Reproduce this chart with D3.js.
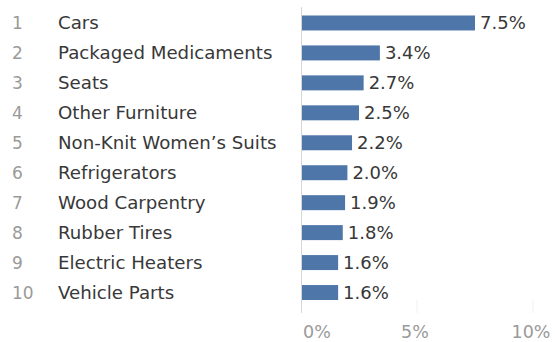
<!DOCTYPE html>
<html>
<head>
<meta charset="utf-8">
<script src="https://cdn.jsdelivr.net/npm/d3@7"></script>
<style>
  html, body { margin: 0; padding: 0; background: #fff; }
  svg { display: block; }
  text { font-family: "DejaVu Sans", sans-serif; }
</style>
</head>
<body>
<div id="chart"></div>
<script>
const ranks = ["1", "2", "3", "4", "5", "6", "7", "8", "9", "10"];
const categories = ["Cars", "Packaged Medicaments", "Seats", "Other Furniture", "Non-Knit Women\u2019s Suits",
  "Refrigerators", "Wood Carpentry", "Rubber Tires", "Electric Heaters", "Vehicle Parts"];
const shares = [7.5, 3.4, 2.7, 2.5, 2.2, 2.0, 1.9, 1.8, 1.6, 1.6];
const tickValues = [0, 5, 10];
const tickLabels = ["0%", "5%", "10%"];

const W = 555, H = 342;
const svg = d3.select("#chart").append("svg").attr("width", W).attr("height", H);

const x = d3.scaleLinear().domain([0, 10]).range([301, 533]);
const y = d3.scaleBand().domain(categories).range([8, 307.5]).paddingInner(0.5).paddingOuter(0.25);

const rows = categories.map((c, i) => ({ rank: ranks[i], cat: c, v: shares[i] }));

// faint ticks
svg.append("g").selectAll("line").data(tickValues.slice(1)).join("line")
  .attr("x1", d => x(d)).attr("x2", d => x(d))
  .attr("y1", 300).attr("y2", 313)
  .attr("stroke", "#f0f0f0").attr("stroke-width", 1);

// bars
svg.append("g").selectAll("rect").data(rows).join("rect")
  .attr("x", x(0) + 1)
  .attr("y", d => y(d.cat))
  .attr("width", d => x(d.v) - x(0) - 1)
  .attr("height", y.bandwidth())
  .attr("fill", "#4e76a8");

// axis line
svg.append("line")
  .attr("x1", x(0) + 0.5).attr("x2", x(0) + 0.5)
  .attr("y1", 7).attr("y2", 313)
  .attr("stroke", "#d6d6d6").attr("stroke-width", 1);

const cy = d => y(d.cat) + y.bandwidth() / 2;

// rank labels
svg.append("g").selectAll("text").data(rows).join("text")
  .attr("x", 12).attr("y", d => cy(d) + 6.5)
  .attr("font-size", 17).attr("fill", "#9a9a9a")
  .text(d => d.rank);

// category labels
svg.append("g").selectAll("text").data(rows).join("text")
  .attr("x", 58).attr("y", d => cy(d) + 6.5)
  .attr("font-size", 18.2).attr("fill", "#383838")
  .text(d => d.cat);

// value labels
svg.append("g").selectAll("text").data(rows).join("text")
  .attr("x", d => x(d.v) + 5).attr("y", d => cy(d) + 6.5)
  .attr("font-size", 18).attr("fill", "#383838")
  .text(d => d.v.toFixed(1) + "%");

// tick labels
svg.append("g").selectAll("text").data(tickValues).join("text")
  .attr("x", (d, i) => i === 0 ? x(d) + 2 : x(d) - 2)
  .attr("y", 338)
  .attr("text-anchor", (d, i) => i === 0 ? "start" : "middle")
  .attr("font-size", 17.5).attr("fill", "#9a9a9a")
  .text((d, i) => tickLabels[i]);
</script>
</body>
</html>
